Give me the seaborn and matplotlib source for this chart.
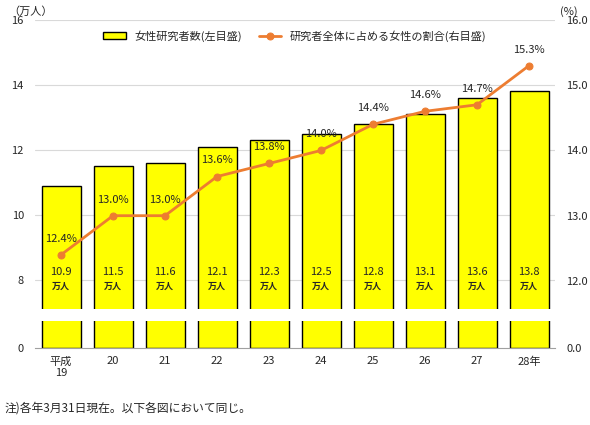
import matplotlib.pyplot as plt
import seaborn as sns
import pandas as pd
import numpy as np

sns.set_style('white')
plt.rcParams['font.family'] = ['Noto Sans CJK JP', 'DejaVu Sans']

years = ['平成\n19', '20', '21', '22', '23', '24', '25', '26', '27', '28年']
researchers = [10.9, 11.5, 11.6, 12.1, 12.3, 12.5, 12.8, 13.1, 13.6, 13.8]
ratio = [12.4, 13.0, 13.0, 13.6, 13.8, 14.0, 14.4, 14.6, 14.7, 15.3]

df = pd.DataFrame({'year': years, 'n': researchers, 'r': ratio, 'x': np.arange(10)})

fig = plt.figure(figsize=(5.9, 4.25), dpi=100)
ax = fig.add_axes([35/590, 0.273, 520/590, 0.68])
axl = fig.add_axes([35/590, 0.181, 520/590, 0.064])

bar_kw = dict(color='#ffff00', edgecolor='black', linewidth=1, width=0.75, saturation=1)
sns.barplot(data=df, x='year', y='n', ax=ax, label='女性研究者数(左目盛)', **bar_kw)
sns.barplot(data=df, x='year', y='n', ax=axl, **bar_kw)

ax.set_ylim(7.1, 16)
ax.set_yticks([8, 10, 12, 14, 16])
ax.yaxis.grid(True, color='#d9d9d9', lw=0.8)
ax.set_axisbelow(True)
axl.set_ylim(0, 1)
axl.set_yticks([0])
for a in (ax, axl):
    a.set_xlim(-0.5, 9.5)
    a.set_xlabel('')
    a.set_ylabel('')
    a.tick_params(axis='y', labelsize=8, length=0, pad=8)
    for s in ['top', 'right', 'left']:
        a.spines[s].set_visible(False)
ax.spines['bottom'].set_visible(False)
ax.set_xticks([])
axl.spines['bottom'].set_color('#a0a0a0')
axl.tick_params(axis='x', labelsize=8, length=0, pad=6)

for i, v in enumerate(researchers):
    ax.text(i, 8.25, f'{v}', ha='center', va='center', fontsize=8)
    ax.text(i, 7.8, '万人', ha='center', va='center', fontsize=6.5, fontweight='bold')

ax2 = ax.twinx()
sns.lineplot(data=df, x='x', y='r', ax=ax2, color='#ed7d31', lw=2, marker='o',
             markersize=5, markeredgecolor='#ed7d31', label='研究者全体に占める女性の割合(右目盛)')
ax2.set_ylim(11.57, 16)
ax2.set_yticks([12, 13, 14, 15, 16])
ax2.set_yticklabels([f'{t:.1f}' for t in [12, 13, 14, 15, 16]])
ax2.set_ylabel('')
ax2.tick_params(axis='y', labelsize=8, length=0, pad=8)
for s in ['top', 'right', 'left', 'bottom']:
    ax2.spines[s].set_visible(False)
for i, v in enumerate(ratio):
    ax2.text(i, v + 0.17, f'{v}%', ha='center', va='bottom', fontsize=8)

axl2 = axl.twinx()
axl2.set_ylim(0, 1)
axl2.set_yticks([0])
axl2.set_yticklabels(['0.0'])
axl2.tick_params(axis='y', labelsize=8, length=0, pad=8)
for s in ['top', 'right', 'left', 'bottom']:
    axl2.spines[s].set_visible(False)

h1, l1 = ax.get_legend_handles_labels()
h2, l2 = ax2.get_legend_handles_labels()
ax2.legend(h1 + h2, l1 + l2, loc='upper center', ncol=2, frameon=False, fontsize=8,
           bbox_to_anchor=(0.5, 1.0), columnspacing=1.5)
if ax.get_legend():
    ax.get_legend().remove()

fig.text(8/590, 1 - 12/425, '（万人）', fontsize=8, va='center')
fig.text(560/590, 1 - 12/425, '(%)', fontsize=8, va='center')
fig.text(5/590, 1 - 408/425, '注)各年3月31日現在。以下各図において同じ。', fontsize=8.5, va='center')

fig.savefig('out.png', dpi=100)
